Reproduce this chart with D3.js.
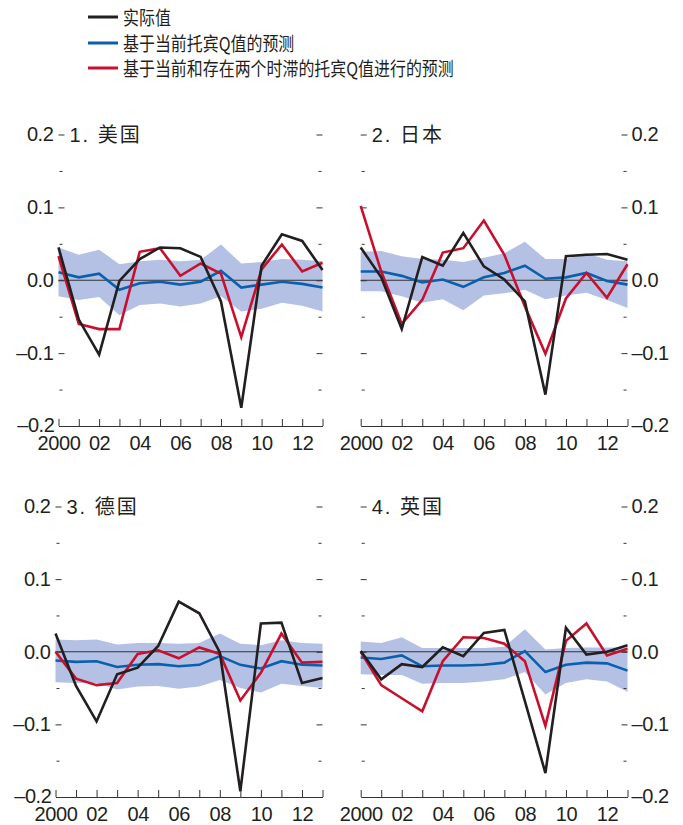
<!DOCTYPE html>
<html>
<head>
<meta charset="utf-8">
<script src="https://cdn.jsdelivr.net/npm/d3@7/dist/d3.min.js"></script>
<style>
  html, body { margin: 0; padding: 0; background: #fff; }
  svg { display: block; }
  .tick text { font-family: "Liberation Sans", Arial, sans-serif; font-size: 20px; letter-spacing: -0.4px; fill: #231f20; }
</style>
</head>
<body>
<svg id="chart" width="683" height="825"></svg>
<script>
// ---- Data -------------------------------------------------------------
const years = [2000, 2001, 2002, 2003, 2004, 2005, 2006, 2007, 2008, 2009, 2010, 2011, 2012, 2013];
const xTickYears = [2000, 2002, 2004, 2006, 2008, 2010, 2012];
const xTickLabels = ["2000", "02", "04", "06", "08", "10", "12"];
const yTicks = [0.2, 0.1, 0.0, -0.1, -0.2];
const yTickLabels = ["0.2", "0.1", "0.0", "–0.1", "–0.2"];
const yMinorTicks = [0.15, 0.05, -0.05, -0.15];

const seriesNames = ["实际值", "基于当前托宾Q值的预测", "基于当前和存在两个时滞的托宾Q值进行的预测"];
const panelTitles = ["1. 美国", "2. 日本", "3. 德国", "4. 英国"];

// United States
const usActual  = [0.045, -0.054, -0.102, -0.001, 0.029, 0.045, 0.044, 0.032, -0.029, -0.175, 0.020, 0.063, 0.054, 0.014];
const usCurrent = [0.011, 0.004, 0.009, -0.013, -0.004, -0.002, -0.006, -0.002, 0.013, -0.010, -0.006, -0.002, -0.005, -0.010];
const usLagged  = [0.033, -0.060, -0.067, -0.067, 0.039, 0.044, 0.006, 0.023, 0.009, -0.078, 0.015, 0.049, 0.012, 0.024];
const usBandHi  = [0.045, 0.035, 0.042, 0.022, 0.026, 0.028, 0.026, 0.028, 0.049, 0.023, 0.025, 0.029, 0.028, 0.026];
const usBandLo  = [-0.022, -0.027, -0.023, -0.048, -0.034, -0.032, -0.036, -0.032, -0.022, -0.043, -0.039, -0.031, -0.035, -0.043];

// Japan
const jpActual  = [0.045, 0.004, -0.067, 0.032, 0.020, 0.065, 0.019, 0.001, -0.029, -0.157, 0.033, 0.035, 0.036, 0.028];
const jpCurrent = [0.012, 0.012, 0.006, -0.003, 0.001, -0.009, 0.004, 0.010, 0.020, 0.002, 0.004, 0.010, -0.001, -0.006];
const jpLagged  = [0.102, 0.012, -0.060, -0.027, 0.038, 0.044, 0.082, 0.035, -0.036, -0.101, -0.025, 0.010, -0.024, 0.022];
const jpBandHi  = [0.039, 0.040, 0.033, 0.029, 0.028, 0.025, 0.031, 0.037, 0.053, 0.029, 0.029, 0.037, 0.028, 0.026];
const jpBandLo  = [-0.015, -0.015, -0.022, -0.031, -0.026, -0.041, -0.021, -0.018, -0.013, -0.026, -0.021, -0.017, -0.027, -0.038];

// Germany
const deActual  = [0.025, -0.047, -0.096, -0.031, -0.022, 0.008, 0.069, 0.053, -0.001, -0.192, 0.039, 0.040, -0.043, -0.036];
const deCurrent = [-0.012, -0.014, -0.013, -0.021, -0.018, -0.017, -0.020, -0.018, -0.006, -0.018, -0.023, -0.013, -0.018, -0.019];
const deLagged  = [0.000, -0.037, -0.046, -0.043, -0.003, 0.002, -0.009, 0.006, -0.003, -0.067, -0.029, 0.025, -0.015, -0.014];
const deBandHi  = [0.017, 0.016, 0.017, 0.010, 0.012, 0.012, 0.011, 0.012, 0.025, 0.011, 0.009, 0.016, 0.012, 0.011];
const deBandLo  = [-0.042, -0.043, -0.043, -0.052, -0.048, -0.047, -0.051, -0.048, -0.039, -0.050, -0.056, -0.044, -0.047, -0.050];

// United Kingdom
const ukActual  = [0.001, -0.038, -0.017, -0.021, 0.006, -0.006, 0.026, 0.030, -0.068, -0.167, 0.033, -0.004, 0.000, 0.009];
const ukCurrent = [-0.008, -0.010, -0.005, -0.020, -0.019, -0.019, -0.018, -0.015, 0.001, -0.028, -0.018, -0.015, -0.016, -0.026];
const ukLagged  = [0.000, -0.046, -0.064, -0.082, -0.013, 0.020, 0.019, 0.011, -0.013, -0.102, 0.015, 0.039, -0.005, 0.004];
const ukBandHi  = [0.014, 0.012, 0.020, 0.005, 0.005, 0.005, 0.005, 0.007, 0.031, 0.003, 0.005, 0.006, 0.006, 0.006];
const ukBandLo  = [-0.031, -0.032, -0.032, -0.044, -0.043, -0.043, -0.041, -0.038, -0.028, -0.059, -0.043, -0.038, -0.041, -0.055];

// ---- Styling ----------------------------------------------------------
const colActual = "#231f20";
const colCurrent = "#0b60ad";
const colLagged = "#c8102e";
const colBand = "#b5c1e4";
const colAxis = "#333";
const numFont = '"Liberation Sans", Arial, sans-serif';
const cjkFont = '"Liberation Sans", "Noto Sans CJK SC", sans-serif';

const svg = d3.select("#chart");

// ---- Legend -----------------------------------------------------------
const legendColors = [colActual, colCurrent, colLagged];
const legendRows = [17, 43, 68];
const legend = svg.append("g");
seriesNames.forEach((name, i) => {
  legend.append("line")
    .attr("x1", 88).attr("x2", 118)
    .attr("y1", legendRows[i]).attr("y2", legendRows[i])
    .attr("stroke", legendColors[i]).attr("stroke-width", 3);
  legend.append("text")
    .attr("transform", `translate(123,${legendRows[i]}) scale(0.84,1)`)
    .attr("dominant-baseline", "central")
    .attr("font-family", '"Noto Sans CJK SC", sans-serif')
    .attr("font-size", 19)
    .attr("fill", "#231f20")
    .text(name);
});

// ---- Panels -----------------------------------------------------------
const panels = [
  { title: panelTitles[0], actual: usActual, current: usCurrent, lagged: usLagged, hi: usBandHi, lo: usBandLo,
    x0: 58.5, x1: 322.5, yTop: 134.5, yBot: 426, labels: "left" },
  { title: panelTitles[1], actual: jpActual, current: jpCurrent, lagged: jpLagged, hi: jpBandHi, lo: jpBandLo,
    x0: 360.7, x1: 627.5, yTop: 134.5, yBot: 426, labels: "right" },
  { title: panelTitles[2], actual: deActual, current: deCurrent, lagged: deLagged, hi: deBandHi, lo: deBandLo,
    x0: 55.5, x1: 322.5, yTop: 506.5, yBot: 797, labels: "left" },
  { title: panelTitles[3], actual: ukActual, current: ukCurrent, lagged: ukLagged, hi: ukBandHi, lo: ukBandLo,
    x0: 360.7, x1: 627.5, yTop: 506.5, yBot: 797, labels: "right" }
];

const xLabelOf = new Map(xTickYears.map((y, i) => [y, xTickLabels[i]]));
const yLabelOf = new Map(yTicks.map((v, i) => [v, yTickLabels[i]]));

panels.forEach(p => {
  const x = d3.scaleLinear().domain([2000, 2013]).range([p.x0, p.x1]);
  const y = d3.scaleLinear().domain([-0.2, 0.2]).range([p.yBot, p.yTop]);
  const g = svg.append("g");

  // forecast band
  const band = d3.area()
    .x((d, i) => x(years[i]))
    .y0((d, i) => y(p.lo[i]))
    .y1((d, i) => y(p.hi[i]));
  g.append("path").datum(years).attr("d", band).attr("fill", colBand);

  // zero line
  g.append("line")
    .attr("x1", x(2000)).attr("x2", x(2013))
    .attr("y1", y(0)).attr("y2", y(0))
    .attr("stroke", colAxis).attr("stroke-width", 1);

  // y axes: major ticks pointing inward, minor ticks shorter
  const leftMajor = d3.axisLeft(y).tickValues(yTicks.filter(v => v > -0.2))
    .tickSize(-6).tickPadding(5)
    .tickFormat(v => p.labels === "left" ? yLabelOf.get(v) : "");
  const rightMajor = d3.axisRight(y).tickValues(yTicks.filter(v => v > -0.2))
    .tickSize(-6).tickPadding(4)
    .tickFormat(v => p.labels === "right" ? yLabelOf.get(v) : "");
  const leftMinor = d3.axisLeft(y).tickValues(yMinorTicks).tickSize(-3).tickFormat("");
  const rightMinor = d3.axisRight(y).tickValues(yMinorTicks).tickSize(-3).tickFormat("");

  [[leftMajor, p.x0], [leftMinor, p.x0 + 1], [rightMajor, p.x1], [rightMinor, p.x1 - 1]].forEach(([ax, xp]) => {
    const a = g.append("g").attr("transform", `translate(${xp},0)`).call(ax);
    a.select(".domain").remove();
    a.selectAll(".tick line").attr("stroke", colAxis).attr("stroke-width", 1);
  });

  // -0.2 label sits at the end of the x axis
  g.append("text")
    .attr("x", p.labels === "left" ? p.x0 - 4 : p.x1 + 4)
    .attr("y", y(-0.2))
    .attr("dy", "0.32em")
    .attr("text-anchor", p.labels === "left" ? "end" : "start")
    .attr("font-family", numFont).attr("font-size", 20).attr("letter-spacing", -0.4)
    .attr("fill", "#231f20")
    .text(yLabelOf.get(-0.2));

  // x axis with ticks pointing up
  const xAxis = d3.axisBottom(x).tickValues(years)
    .tickSizeInner(-7).tickSizeOuter(0).tickPadding(10)
    .tickFormat(v => xLabelOf.get(v) || "");
  const xa = g.append("g").attr("transform", `translate(0,${p.yBot})`).call(xAxis);
  xa.select(".domain").attr("stroke", colAxis).attr("stroke-width", 1.2);
  xa.selectAll(".tick line").attr("stroke", colAxis).attr("stroke-width", 1);

  // series lines
  const line = d3.line().x((d, i) => x(years[i])).y(d => y(d));
  [[p.current, colCurrent], [p.lagged, colLagged], [p.actual, colActual]].forEach(([vals, col]) => {
    g.append("path").datum(vals).attr("d", line)
      .attr("fill", "none").attr("stroke", col)
      .attr("stroke-width", 2.6).attr("stroke-linejoin", "miter").attr("stroke-miterlimit", 4);
  });

  // panel title
  g.append("text")
    .attr("x", p.x0 + 11).attr("y", y(0.2))
    .attr("dominant-baseline", "central")
    .attr("font-family", cjkFont).attr("font-size", 20)
    .attr("letter-spacing", 2)
    .attr("fill", "#231f20")
    .text(p.title);
});
</script>
</body>
</html>
